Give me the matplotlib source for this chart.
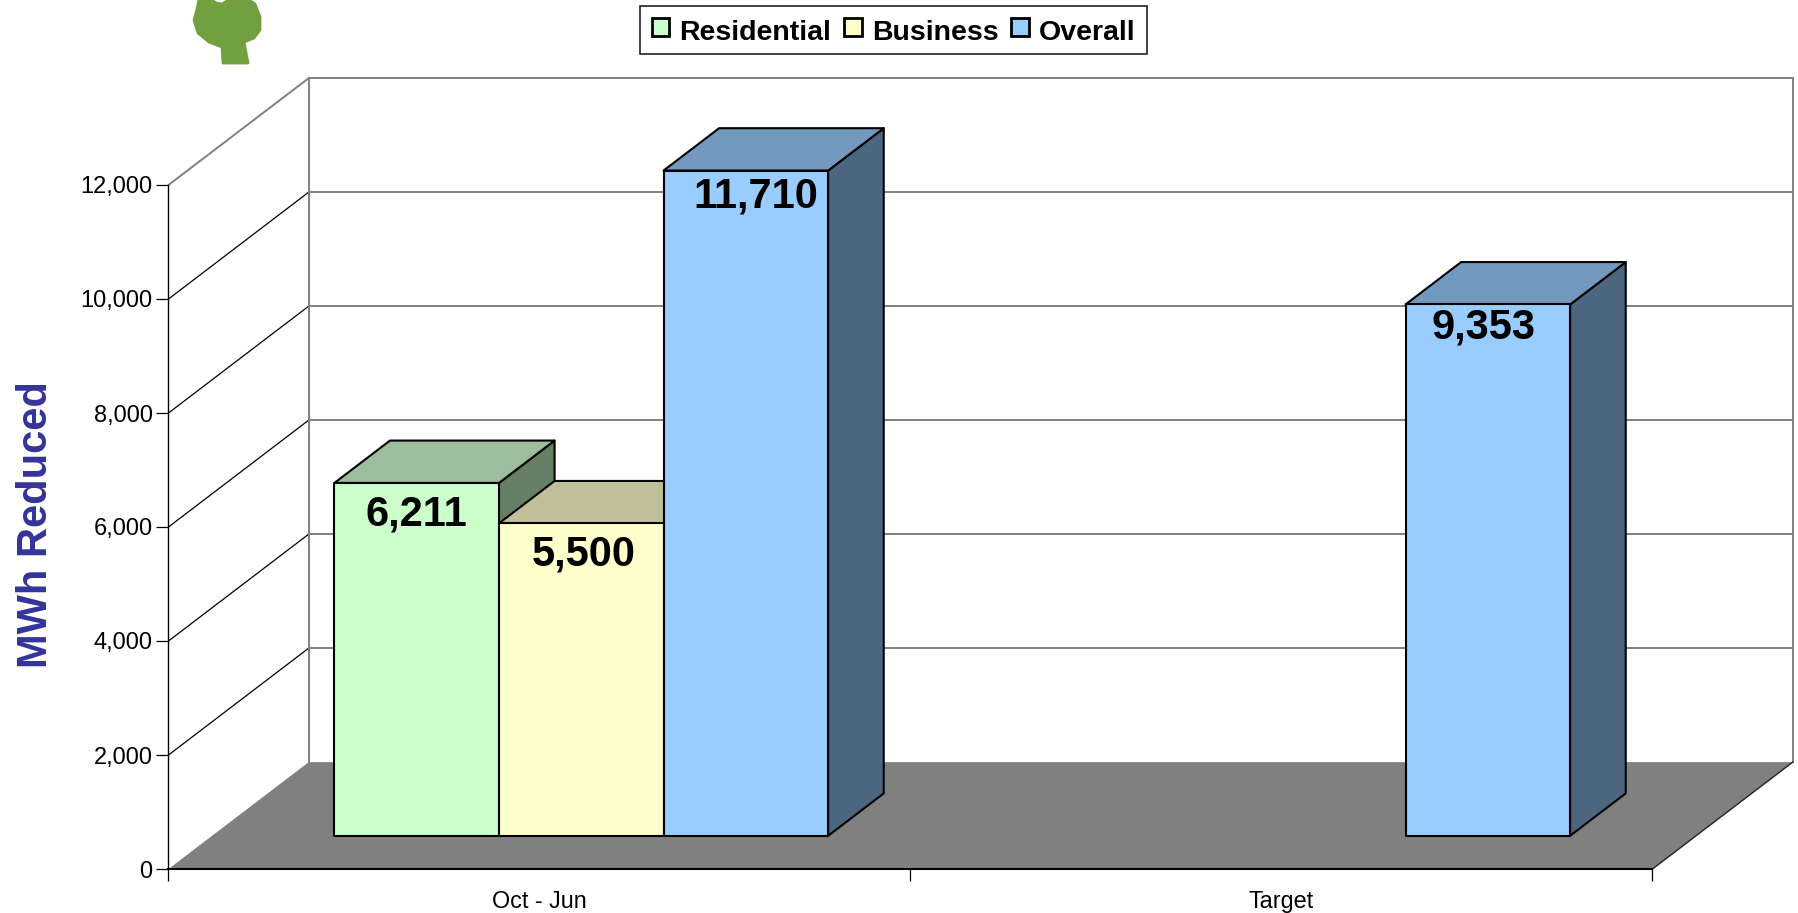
# -*- coding: utf-8 -*-
import matplotlib
matplotlib.use("Agg")
import matplotlib.pyplot as plt
from matplotlib.patches import Polygon, Patch
from matplotlib.ticker import FuncFormatter

# chart data
categories = ["Oct - Jun", "Target"]
residential = [6211, None]
business = [5500, None]
overall = [11710, 9353]
series_names = ["Residential", "Business", "Overall"]
y_ticks = [0, 2000, 4000, 6000, 8000, 10000, 12000]

# styles
front_colors = ["#CCFFCC", "#FFFFCC", "#99CCFF"]
top_colors = ["#9CBE9C", "#BFBF99", "#7399BF"]
side_colors = ["#668066", "#808066", "#4D6680"]
FLOOR = "#808080"
WALL = "#808080"

# oblique projection of the 3d box, depth in axis units
DEPTH_X = 0.189
DEPTH_Y = 1875
BAR_W = 0.2218
BAR_SHIFT = -0.0025
BAR_Z0 = 0.311
BAR_Z1 = 0.7075
# bars stand in front of the wall, so they come out a bit shorter than the axis scale
BAR_SCALE = 0.9966

# nudge of the value labels, in points (right, below the bar top)
label_nudge = {6211: 8, 5500: 8, 11710: 4, 9353: 2}
label_shift = {6211: 0, 5500: 2, 11710: 7, 9353: -3}


def proj(x, y, z):
    return (x + z * DEPTH_X, y + z * DEPTH_Y)


def draw_bar(ax, x0, value, k, order):
    x1 = x0 + BAR_W
    h = value * BAR_SCALE
    common = dict(edgecolor="black", linewidth=1.5, joinstyle="round", clip_on=False, zorder=order)
    # side, top, then front face
    side = [proj(x1, 0, BAR_Z0), proj(x1, 0, BAR_Z1), proj(x1, h, BAR_Z1), proj(x1, h, BAR_Z0)]
    top = [proj(x0, h, BAR_Z0), proj(x0, h, BAR_Z1), proj(x1, h, BAR_Z1), proj(x1, h, BAR_Z0)]
    front = [proj(x0, 0, BAR_Z0), proj(x1, 0, BAR_Z0), proj(x1, h, BAR_Z0), proj(x0, h, BAR_Z0)]
    ax.add_patch(Polygon(side, facecolor=side_colors[k], **common))
    ax.add_patch(Polygon(top, facecolor=top_colors[k], **common))
    ax.add_patch(Polygon(front, facecolor=front_colors[k], **common))
    cx, cy = proj(x0 + BAR_W / 2, h, BAR_Z0)
    ax.annotate(f"{value:,}", (cx, cy), xytext=(label_shift[value], -label_nudge[value]),
                textcoords="offset points", ha="center", va="top",
                fontsize=30, fontweight="bold", color="black", zorder=order + 0.5,
                annotation_clip=False)


def draw_walls(ax, n_cat):
    ymax = y_ticks[-1]
    # floor
    floor = [proj(0, 0, 0), proj(0, 0, 1), proj(n_cat, 0, 1), proj(n_cat, 0, 0)]
    ax.add_patch(Polygon(floor, facecolor=FLOOR, edgecolor="none", clip_on=False, zorder=1))
    # floor edge on the right
    xs, ys = zip(proj(n_cat, 0, 0), proj(n_cat, 0, 1))
    ax.plot(xs, ys, color="#222222", lw=1.0, clip_on=False, zorder=1.2)
    # gridlines on left and back wall
    for t in y_ticks[1:]:
        left = "black" if t < ymax else WALL
        xs, ys = zip(proj(0, t, 0), proj(0, t, 1))
        ax.plot(xs, ys, color=left, lw=0.9 if t < ymax else 1.4, clip_on=False, zorder=1.1)
        xs, ys = zip(proj(0, t, 1), proj(n_cat, t, 1))
        ax.plot(xs, ys, color=WALL, lw=1.4, clip_on=False, zorder=1.1)
    # back wall verticals
    for x in (0, n_cat):
        xs, ys = zip(proj(x, 0, 1), proj(x, ymax, 1))
        ax.plot(xs, ys, color=WALL, lw=1.4, clip_on=False, zorder=1.1)


def draw_logo(fig):
    # green tree at the top left, traced in pixels
    pax = fig.add_axes([0, 0, 1, 1], zorder=-1)
    pax.set_xlim(0, 1799)
    pax.set_ylim(913, 0)
    pax.axis("off")
    outline = [(199, 0), (212, 0), (216, 3), (222, 4), (227, 1), (229, 0), (249, 0), (255, 4),
               (260, 17), (260, 30), (254, 38), (244, 42), (248, 63), (223, 63), (222, 47),
               (209, 42), (198, 33), (194, 20), (197, 9)]
    pax.add_patch(Polygon(outline, facecolor="#72A03E", edgecolor="#72A03E", lw=2, joinstyle="round"))


if __name__ == "__main__":
    plt.rcParams["font.family"] = ["Liberation Sans", "DejaVu Sans"]
    W, H = 1799, 913
    fig = plt.figure(figsize=(W / 100, H / 100), dpi=100, facecolor="white")
    draw_logo(fig)

    ax = fig.add_axes([168.5 / W, (H - 869) / H, (1652.5 - 168.5) / W, (869 - 185) / H])
    ax.patch.set_alpha(0)
    ax.set_xlim(0, len(categories))
    ax.set_ylim(y_ticks[0], y_ticks[-1])
    draw_walls(ax, len(categories))

    # bars
    all_series = [residential, business, overall]
    order = 3
    for c in range(len(categories)):
        for k, values in enumerate(all_series):
            if values[c] is None:
                continue
            x0 = c + 0.5 + (k - 1.5) * BAR_W + BAR_SHIFT
            draw_bar(ax, x0, values[c], k, order)
            order += 1

    # axes
    for name in ("top", "right"):
        ax.spines[name].set_visible(False)
    ax.spines["left"].set_linewidth(1.0)
    ax.spines["bottom"].set_linewidth(1.5)
    ax.spines["bottom"].set_zorder(2)
    ax.set_yticks(y_ticks)
    ax.yaxis.set_major_formatter(FuncFormatter(lambda v, p: f"{int(v):,}"))
    ax.tick_params(axis="y", length=8.5, width=0.9, labelsize=17, pad=3)
    ax.set_xticks([c + 0.5 for c in range(len(categories))])
    ax.set_xticklabels(categories)
    ax.tick_params(axis="x", which="major", length=0, labelsize=16.8, pad=15)
    ax.set_xticks(range(len(categories) + 1), minor=True)
    ax.tick_params(axis="x", which="minor", length=8.5, width=0.9)

    ax.set_ylabel("MWh Reduced", fontsize=30, fontweight="bold", color="#333399")
    ax.yaxis.set_label_coords((56 - 168.5) / (1652.5 - 168.5), 0.503)

    handles = [Patch(facecolor=front_colors[k], edgecolor="black", linewidth=2, label=series_names[k])
               for k in range(3)]
    leg = fig.legend(handles=handles, loc="center", bbox_to_anchor=(893.5 / W, 1 - 30 / H), ncol=3,
                     prop=dict(weight="bold", size=20.5), fancybox=False,
                     edgecolor="#222222", framealpha=1, handlelength=0.63, handleheight=0.63,
                     handletextpad=0.35, columnspacing=0.44, borderpad=0.4, borderaxespad=0)
    leg.get_frame().set_linewidth(1.2)
    for t in leg.get_texts():
        t.set_y(-3)

    fig.savefig("out.png", dpi=100)
